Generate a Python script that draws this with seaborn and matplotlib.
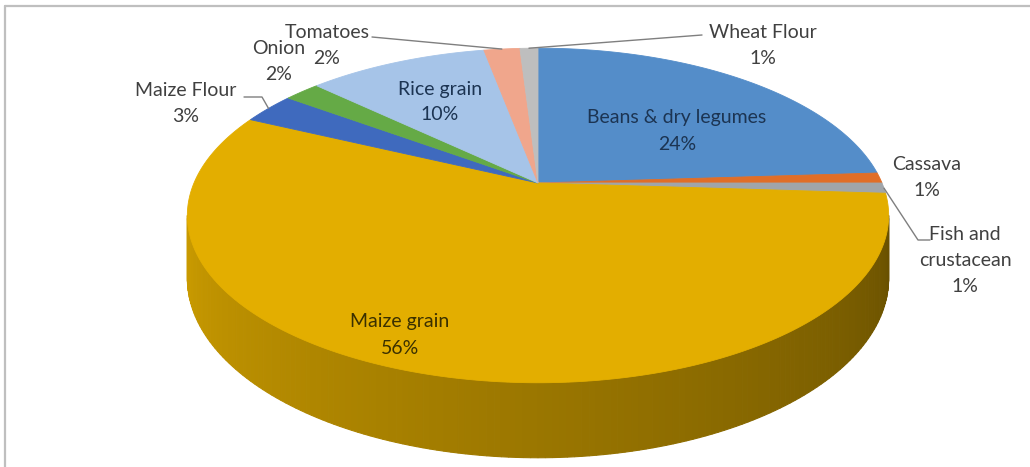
import numpy as np
import matplotlib
matplotlib.use("Agg")
import matplotlib.pyplot as plt
import seaborn as sns
from matplotlib.patches import Polygon
from matplotlib.lines import Line2D
from matplotlib.colors import to_rgb

# ---------------- data ----------------
categories = ["Beans & dry legumes", "Cassava", "Fish and crustacean", "Maize grain",
              "Maize Flour", "Onion", "Rice grain", "Tomatoes", "Wheat Flour"]
shares = [24, 1, 1, 56, 3, 2, 10, 2, 1]
label_texts = ["Beans & dry legumes\n24%", "Cassava\n1%", "Fish and\ncrustacean\n1%",
               "Maize grain\n56%", "Maize Flour\n3%", "Onion\n2%", "Rice grain\n10%",
               "Tomatoes\n2%", "Wheat Flour\n1%"]
colors = ["#548DC9", "#E06E28", "#A0A5AA", "#E3AE00", "#3F6ABE",
          "#65AA46", "#A6C4E8", "#F0A68C", "#BEBEBE"]

# ---------------- layout ----------------
W, H = 1030, 467
CX, CY = 538, 183          # apex of the slices (screen px)
A, B, K = 344, 161, 0.194  # perspective ellipse params
DEPTH = 75
LINE_GAP = 26
label_xy = [(677, 131), (927, 177), (965, 261), (400, 335), (186, 103),
            (279, 62), (440, 102), (327, 45), (763, 45)]
label_colors = ["#1C3452", "#404040", "#404040", "#3A3000", "#404040",
                "#404040", "#1C3452", "#404040", "#404040"]
leaders = {8: [(702, 35)], 7: [(372, 37)], 4: [(244, 97), (262, 97)], 2: [(930, 240), (918, 240)]}

sns.set_theme(style="white")
plt.rcParams['font.family'] = ['Lato', 'DejaVu Sans']

fig = plt.figure(figsize=(W / 100, H / 100), dpi=100)
ax = fig.add_axes([0, 0, 1, 1])
wedges, _ = ax.pie(shares, startangle=90, counterclock=False, colors=colors)
angles = [(w.theta1, w.theta2) for w in wedges]
for w in wedges:
    w.remove()
ax.set_aspect('auto')
ax.set_xlim(0, W)
ax.set_ylim(H, 0)
ax.axis('off')


def proj(theta_deg, r=1.0):
    t = np.radians(theta_deg)
    x, y = r * np.cos(t), r * np.sin(t)
    w = 1 + K * y
    return CX + A * x / w, CY - B * y / w


def depth_at(theta_deg):
    y = np.sin(np.radians(theta_deg))
    return DEPTH * (1 - K) / (1 + K * y)


def wedge_index(theta):
    for i, (a1, a2) in enumerate(angles):
        for off in (-720, -360, 0, 360, 720):
            if a1 <= theta + off <= a2:
                return i
    return 0


# side of the cylinder (front part)
t_start = 180 + np.degrees(np.arcsin(K))
t_end = 360 - np.degrees(np.arcsin(K))
ts = np.linspace(t_start, t_end, 161)
for i in range(len(ts) - 1):
    ta, tb = ts[i], ts[i + 1]
    idx = wedge_index((ta + tb) / 2)
    frac = ((ta + tb) / 2 - t_start) / (t_end - t_start)
    f = 0.90 - 0.44 * frac
    c = np.array(to_rgb(colors[idx])) * f
    xa, ya = proj(ta)
    xb, yb = proj(tb)
    poly = [(xa, ya), (xb, yb), (xb, yb + depth_at(tb)), (xa, ya + depth_at(ta))]
    ax.add_patch(Polygon(poly, closed=True, facecolor=c, edgecolor=c, lw=0.8))

# top faces
for (a1, a2), col in zip(angles, colors):
    tt = np.linspace(a1, a2, max(int((a2 - a1) * 2), 8))
    xs, ys = proj(tt)
    pts = [(CX, CY)] + list(zip(xs, ys))
    ax.add_patch(Polygon(pts, closed=True, facecolor=col, edgecolor=col, lw=0.6))

# labels (one text per line) and leader lines
for i, (txt, (lx, ly), lc) in enumerate(zip(label_texts, label_xy, label_colors)):
    lines = txt.split("\n")
    n = len(lines)
    for j, line in enumerate(lines):
        yy = ly + (j - (n - 1) / 2) * LINE_GAP
        ax.text(lx, yy, line, ha='center', va='center', fontsize=14, color=lc)
    if i in leaders:
        mid = (angles[i][0] + angles[i][1]) / 2
        axp, ayp = proj(mid)
        pts = leaders[i] + [(axp, ayp)]
        ax.add_line(Line2D([p[0] for p in pts], [p[1] for p in pts],
                           color="#7F7F7F", lw=1.0))

# chart-area frame
fig.add_artist(Line2D([5 / W, 1.0], [1 - 6 / H, 1 - 6 / H], transform=fig.transFigure,
                      color="#BFBFBF", lw=1.6))
fig.add_artist(Line2D([5 / W, 5 / W], [0.0, 1 - 6 / H], transform=fig.transFigure,
                      color="#BFBFBF", lw=1.6))

fig.savefig("out.png", dpi=100, facecolor="white")
